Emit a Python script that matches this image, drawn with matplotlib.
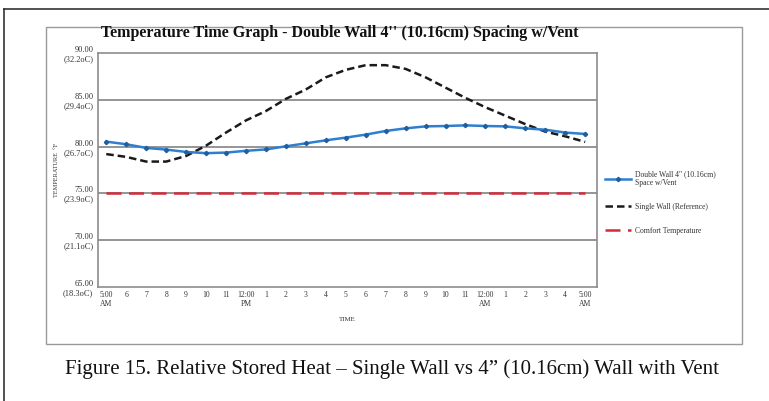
import matplotlib
matplotlib.use("Agg")
import matplotlib.pyplot as plt
from matplotlib.lines import Line2D
from matplotlib.patches import Rectangle

# hours from 5 AM (5) to 5 AM next day (29)
hours = list(range(5, 30))
hour_labels = ["5:00\nAM", "6", "7", "8", "9", "10", "11", "12:00\nPM",
               "1", "2", "3", "4", "5", "6", "7", "8", "9", "10", "11",
               "12:00\nAM", "1", "2", "3", "4", "5:00\nAM"]

double_wall = [80.53, 80.25, 79.86, 79.68, 79.43, 79.30, 79.36, 79.55, 79.70,
               80.03, 80.35, 80.67, 80.96, 81.28, 81.67, 81.95, 82.16, 82.20,
               82.27, 82.20, 82.16, 81.95, 81.80, 81.50, 81.35]
single_wall = [79.20, 78.90, 78.40, 78.40, 79.00, 80.10, 81.50, 82.80, 83.80,
               85.10, 86.10, 87.40, 88.20, 88.70, 88.70, 88.30, 87.40, 86.30,
               85.20, 84.20, 83.30, 82.40, 81.60, 81.10, 80.50]
comfort = [75.0] * len(hours)

y_ticks = [65, 70, 75, 80, 85, 90]
y_labels = ["65.00\n(18.3oC)", "70.00\n(21.1oC)", "75.00\n(23.9oC)",
            "80.00\n(26.7oC)", "85.00\n(29.4oC)", "90.00\n(32.2oC)"]

plt.rcParams["font.family"] = ["Liberation Serif", "DejaVu Serif"]

fig = plt.figure(figsize=(7.69, 4.01), dpi=100)
W, H = 769, 401

def fx(px):
    return px / W

def fy(py):
    return 1 - py / H

# page border (left and top) and chart box
fig.add_artist(Line2D([fx(4), fx(4)], [fy(9), 0], color="#333333", lw=1.2))
fig.add_artist(Line2D([fx(4), 1], [fy(9), fy(9)], color="#333333", lw=1.2))
fig.add_artist(Rectangle((fx(46), fy(344)), fx(742) - fx(46), fy(27) - fy(344),
                         fill=False, edgecolor="#9a9a9a", lw=1.0))

ax = fig.add_axes([fx(97.5), fy(287), fx(597) - fx(97.5), fy(53) - fy(287)])

for g in [70, 75, 80, 85]:
    ax.axhline(g, color="#8c8c8c", lw=1.3, zorder=1)

ax.plot(hours, comfort, color="#d42a3a", lw=1.8, dashes=(6, 3, 6, 3),
        label="Comfort Temperature", zorder=2)
ax.plot(hours, single_wall, color="#1a1a1a", lw=1.8, dashes=(3, 1.6),
        label="Single Wall (Reference)", zorder=3)
ax.plot(hours, double_wall, color="#2f7fd0", lw=1.8, marker="D",
        markersize=2.2, markerfacecolor="#1f5fa0", markeredgecolor="#1f5fa0",
        label="Double Wall 4\" (10.16cm)\nSpace w/Vent", zorder=4)

ax.set_xlim(4.56, 29.59)
ax.set_ylim(65, 90)
ax.set_xticks(hours)
ax.set_xticklabels(hour_labels, fontsize=5.5, color="#333333")
ax.set_yticks(y_ticks)
ax.set_yticklabels(y_labels, fontsize=6, color="#333333")
ax.tick_params(length=0, pad=3)
for s in ax.spines.values():
    s.set_color("#8c8c8c")
    s.set_linewidth(1.2)

ax.set_ylabel("TEMPERATURE  °F", fontsize=4.5, color="#333333", labelpad=3)
ax.set_xlabel("TIME", fontsize=5, color="#333333", labelpad=6)

fig.text(fx(340), fy(33), "Temperature Time Graph - Double Wall 4'' (10.16cm) Spacing w/Vent",
         ha="center", va="center", fontsize=11.5, fontweight="bold", color="#111111")
fig.text(fx(392), fy(369),
         "Figure 15. Relative Stored Heat \u2013 Single Wall vs 4\u201d (10.16cm) Wall with Vent",
         ha="center", va="center", fontsize=15, color="#111111")

h, l = ax.get_legend_handles_labels()
order = [2, 1, 0]
leg = fig.legend([h[i] for i in order], [l[i] for i in order],
                 loc="upper left", bbox_to_anchor=(fx(598), fy(163)),
                 frameon=False, fontsize=5.5, handlelength=3.4,
                 labelspacing=2.1, handletextpad=0.6)
for t in leg.get_texts():
    t.set_color("#333333")

fig.savefig("out.png", dpi=100)
